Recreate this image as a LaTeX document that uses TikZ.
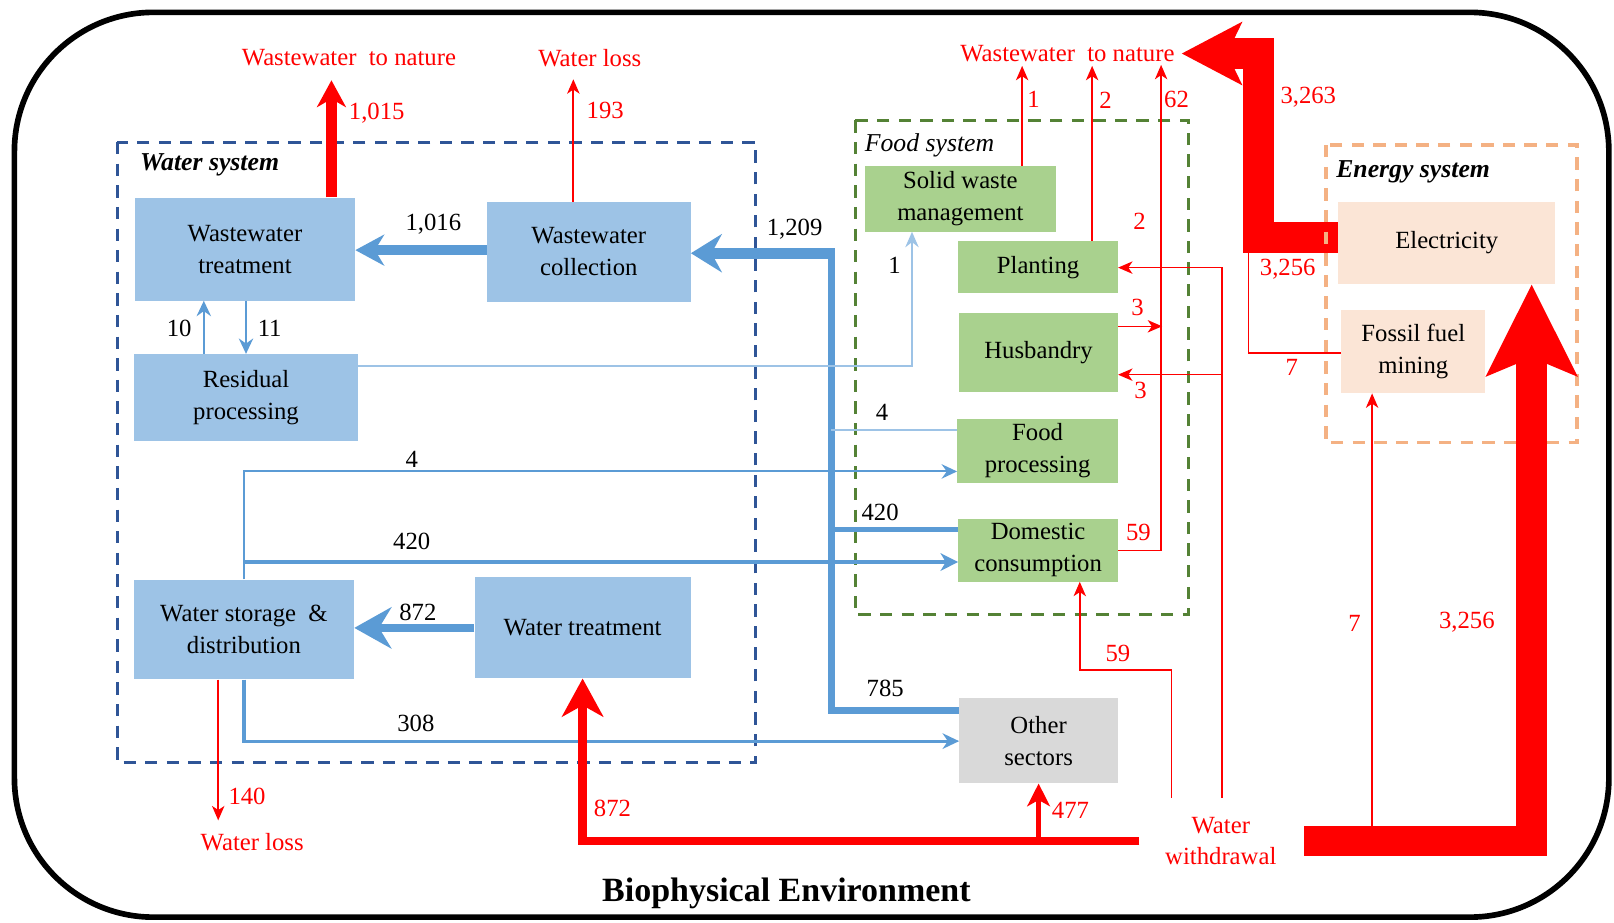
\documentclass[tikz,border=0pt]{standalone}
\usepackage{fontspec}
\setmainfont{Liberation Serif}
\usetikzlibrary{arrows.meta}
\definecolor{bfill}{HTML}{9DC3E6}
\definecolor{gfill}{HTML}{A9D18E}
\definecolor{pfill}{HTML}{FBE5D6}
\definecolor{ofill}{HTML}{D9D9D9}
\definecolor{bl}{HTML}{5B9BD5}
\definecolor{lbl}{HTML}{9DC3E6}
\definecolor{rd}{HTML}{FF0000}
\definecolor{wdash}{HTML}{2F5597}
\definecolor{fdash}{HTML}{548235}
\definecolor{edash}{HTML}{F4B183}
\newcommand\bxf{\fontsize{24}{31}\selectfont}
\begin{document}
\begin{tikzpicture}[x=1pt,y=-1pt,
  every node/.style={inner sep=0pt, font=\bxf},
  bbox/.style={fill=bfill, align=center},
  gbox/.style={fill=gfill, align=center},
  pbox/.style={fill=pfill, align=center},
  obox/.style={fill=ofill, align=center},
  rt/.style={text=rd},
  bthin/.style={draw=bl, line width=2pt, -{Stealth[length=15pt,width=14pt,inset=5pt]}},
  rthin/.style={draw=rd, line width=1.5pt},
  rhead/.style={-{Stealth[length=14pt,width=12pt,inset=4pt]}},
  sysdash/.style={line width=3pt, dash pattern=on 12pt off 9pt},
  ttl/.style={anchor=west, font=\fontsize{25}{30}\selectfont\bfseries\itshape}
]
\useasboundingbox (0,0) rectangle (1568,896);

% outer frame
\draw[line width=5.5pt, rounded corners=135pt] (14,12) rectangle (1563,891);

% system frames
\draw[wdash, sysdash] (114,138) rectangle (734,741);
\draw[fdash, sysdash] (831,117) rectangle (1155,597);

% boxes
\node[bbox, minimum width=214pt, minimum height=100pt] (wwt) at (238,242) {Wastewater\\treatment};
\node[bbox, minimum width=198pt, minimum height=97pt] (wwc) at (572,244.5) {Wastewater\\collection};
\node[bbox, minimum width=218pt, minimum height=84pt] (res) at (239,386) {Residual\\processing};
\node[bbox, minimum width=214pt, minimum height=97pt] (wsd) at (237,611.5) {Water storage\ \ \&\\distribution};
\node[bbox, minimum width=210pt, minimum height=98pt] (wtr) at (566,610) {Water treatment};
\node[gbox, minimum width=186pt, minimum height=64pt] (swm) at (933,193) {Solid waste\\management};
\node[gbox, minimum width=155pt, minimum height=51pt] (pla) at (1008.5,259.5) {Planting};
\node[gbox, minimum width=154pt, minimum height=77pt] (hus) at (1009,342.5) {Husbandry};
\node[gbox, minimum width=156pt, minimum height=62pt] (fpr) at (1008,438) {Food\\processing};
\node[gbox, minimum width=155pt, minimum height=61pt] (dom) at (1008.5,534.5) {Domestic\\consumption};
\node[obox, minimum width=154pt, minimum height=83pt] (oth) at (1009,719.5) {Other\\sectors};
\node[pbox, minimum width=211pt, minimum height=80pt] (ele) at (1405.5,236) {Electricity};
\node[pbox, minimum width=140pt, minimum height=81pt] (ffm) at (1373,341.5) {Fossil fuel\\mining};

% red text nodes
\node[rt] (wn1) at (339,56) {Wastewater\ \ to nature};
\node[rt] (wl1) at (573,56) {Water loss};
\node[rt] (wn2) at (1037,52) {Wastewater\ \ to nature};
\node[rt] (wl2) at (245,818) {Water loss};
\node[rt, align=center, font=\fontsize{24}{30}\selectfont] (ww) at (1186,817) {Water\\withdrawal};

% coordinates for free ends
\coordinate (t1015) at (322,78);
\coordinate (t193) at (557,77);
\coordinate (t140) at (212,797);
\coordinate (tsw) at (993,64);
\coordinate (tpl) at (1061,64);
\coordinate (t62) at (1128,63);
\coordinate (t263) at (1148,52);
\coordinate (wwL) at (1107,817);
\coordinate (wwR) at (1267,817);
\coordinate (c59) at (1138,775);
\coordinate (c23) at (1187,775);
\coordinate (jt) at (811,246);

% blue flows
\draw[bl, line width=9pt, -{Stealth[length=28pt,width=30pt,inset=9pt]}] (wwc.west |- 0,243) -- (wwt.east |- 0,243);
\draw[bl, line width=7pt] (oth.west |- 0,690) -- (807.5,690) -- (807.5,246);
\draw[bl, line width=11pt, -{Stealth[length=30pt,width=37pt,inset=10pt]}] (jt) -- (wwc.east |- jt);
\draw[lbl, line width=1.5pt] (fpr.west |- 0,418) -- (807.5,418);
\draw[bl, line width=5pt] (dom.west |- 0,514) -- (807.5,514);
\draw[lbl, line width=2pt, -{Stealth[length=15pt,width=13pt,inset=5pt]}] (res.east |- 0,356) -| (swm.south -| 886,0);
\draw[bthin] (res.north -| 198,0) -- (wwt.south -| 198,0);
\draw[bthin] (wwt.south -| 239,0) -- (res.north -| 239,0);
\draw[bl, line width=8pt, -{Stealth[length=36pt,width=40pt,inset=12pt]}] (wtr.west) -- (wtr.west -| wsd.east);
\draw[bthin] (wsd.north) |- (fpr.west |- 0,458);
\draw[bl, line width=4.5pt, -{Stealth[length=17pt,width=17pt,inset=5pt]}] (wsd.north |- 0,546) -- (dom.west |- 0,546);
\draw[bl, line width=3pt, -{Stealth[length=16pt,width=15pt,inset=5pt]}] (wsd.south) |- (oth.west |- 0,720);

% red flows
\draw[rd, line width=11pt, -{Stealth[length=26pt,width=28pt,inset=8pt]}] (wwt.north -| 322,0) -- (t1015);
\draw[rthin, line width=2pt, rhead] (wwc.north -| 557,0) -- (t193);
\draw[rthin, line width=2pt, rhead] (wsd.south -| 212,0) -- (t140);
\draw[rd, line width=8pt, -{Stealth[length=37pt,width=40pt,inset=11pt]}] (wwL) -| (wtr.south);
\draw[rd, line width=5pt, -{Stealth[length=22pt,width=22pt,inset=6pt]}] (oth.south |- wwL) -- (oth.south);
\draw[rthin, rhead] (c59) -- (1138,651) -| (dom.south -| 1049,0);
\draw[rthin, rhead] (c23) |- (pla.east |- 0,260);
\draw[rthin, rhead] (c23 |- 0,364) -- (hus.east |- 0,364);
\draw[rthin, rhead] (hus.east |- 0,317) -- (1129,317);
\draw[rthin, rhead] (dom.east |- 0,535) -| (t62);
\draw[rthin, rhead] (pla.north -| 1061,0) -- (tpl);
\draw[rthin, rhead] (swm.north -| 993,0) -- (tsw);
\draw[rthin] (ffm.west |- 0,343) -| (1213,240);
\draw[rthin, rhead] (wwR -| 1333,0) -- (ffm.south -| 1333,0);
\draw[rd, line width=30pt, -{Stealth[length=58pt,width=60pt,inset=14pt]}] (ele.west |- 0,231) -| (1223,52) -- (t263);

\draw[edash, sysdash, line width=3.5pt] (1288,141) rectangle (1532,430);

\draw[rd, line width=30pt, -{Stealth[length=88pt,width=86pt,inset=17pt]}] (wwR) -| (ele.south -| 1488,0);

% black labels
\node (n1016) at (421,218) {1,016};
\node (n1209) at (772,223) {1,209};
\node (n10) at (174,319) {10};
\node (n11) at (262,319) {11};
\node (n1b) at (869,258) {1};
\node (n4a) at (857,401) {4};
\node (n4b) at (400,446) {4};
\node (n420a) at (400,526) {420};
\node (n420b) at (855,498) {420};
\node (n872a) at (406,595) {872};
\node (n785) at (860,669) {785};
\node (n308) at (404,703) {308};

% red labels
\node[rt] (r1015) at (366,110) {1,015};
\node[rt] (r193) at (588,107) {193};
\node[rt] (r140) at (240,774) {140};
\node[rt] (r872) at (595,785) {872};
\node[rt] (r477) at (1040,787) {477};
\node[rt] (r59a) at (1086,635) {59};
\node[rt] (r59b) at (1106,517) {59};
\node[rt] (r3a) at (1108,379) {3};
\node[rt] (r3b) at (1105,299) {3};
\node[rt] (r2a) at (1107,215) {2};
\node[rt] (r1) at (1004,97) {1};
\node[rt] (r2b) at (1074,97) {2};
\node[rt] (r62) at (1143,97) {62};
\node[rt] (r3263) at (1271,94) {3,263};
\node[rt] (r3256a) at (1251,262) {3,256};
\node[rt] (r7a) at (1255,357) {7};
\node[rt] (r7b) at (1316,606) {7};
\node[rt] (r3256b) at (1425,604) {3,256};

% titles
\node[ttl] (tws) at (136,160) {Water system};
\node[ttl, font=\fontsize{25}{30}\selectfont\itshape] (tfs) at (840,141) {Food system};
\node[ttl] (tes) at (1298,167) {Energy system};
\node[font=\fontsize{33}{38}\selectfont\bfseries] (tbe) at (764,868) {Biophysical Environment};
\end{tikzpicture}
\end{document}
